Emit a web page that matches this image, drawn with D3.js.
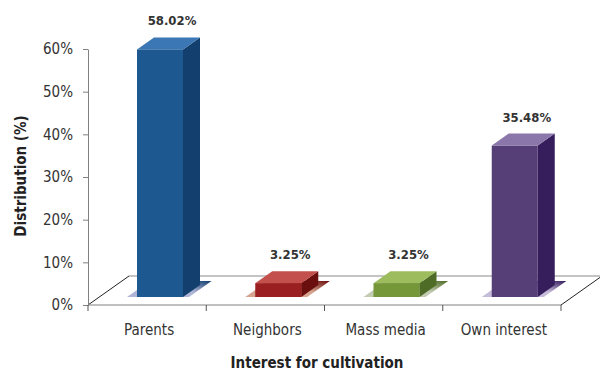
<!DOCTYPE html>
<html>
<head>
<meta charset="utf-8">
<script src="https://cdn.jsdelivr.net/npm/d3@7"></script>
<style>
  html, body { margin: 0; padding: 0; background: #fff; }
  svg { display: block; font-family: "DejaVu Sans Condensed", "DejaVu Sans", sans-serif; }
</style>
</head>
<body>
<svg id="chart" width="600" height="371"></svg>
<script>
// Data
const categories = ["Parents", "Neighbors", "Mass media", "Own interest"];
const values = [58.02, 3.25, 3.25, 35.48];
const yTicks = [0, 10, 20, 30, 40, 50, 60];
const xTitle = "Interest for cultivation";
const yTitle = "Distribution (%)";

// Face colours per bar: front, side, top, shadow
const frontColors = ["#1d5990", "#9a1f20", "#76963a", "#563e77"];
const sideColors = ["#123f6d", "#6a0e0e", "#4f6c27", "#361d5b"];
const topColors = ["#3a77b4", "#c3504c", "#9cbc5e", "#8b77a9"];
const shadowLight = ["#aeb5d6", "#d6a590", "#c3cbb2", "#c5bcd9"];

const svg = d3.select("#chart");

// Plot frame
const x0 = 88, x1 = 561, yBottom = 305, yTop = 49;
const floorDx = 41, floorDy = -29;      // depth of the floor plane
const barDx = 11.3, barDy = -8;         // where bar fronts sit on the floor
const sideDx = 17, sideDy = -12;        // bar depth
const barW = 46, barInset = 49 - barDx;

const x = d3.scaleBand().domain(categories).range([x0, x1]).padding(0);
const y = d3.scaleLinear().domain([0, 60]).range([yBottom, yTop]);

// Floor
const floor = svg.append("g");
floor.append("path")
  .attr("d", `M${x0},${yBottom} L${x0 + floorDx},${yBottom + floorDy} L${x1 + floorDx},${yBottom + floorDy} L${x1},${yBottom} Z`)
  .attr("fill", "#ffffff");
floor.append("line")
  .attr("x1", x0 + floorDx).attr("y1", yBottom + floorDy)
  .attr("x2", x1 + floorDx).attr("y2", yBottom + floorDy)
  .attr("stroke", "#8a8a8a").attr("stroke-width", 1);
floor.append("line")
  .attr("x1", x0).attr("y1", yBottom)
  .attr("x2", x0 + floorDx).attr("y2", yBottom + floorDy)
  .attr("stroke", "#222").attr("stroke-width", 1);
floor.append("line")
  .attr("x1", x1).attr("y1", yBottom)
  .attr("x2", x1 + floorDx).attr("y2", yBottom + floorDy)
  .attr("stroke", "#222").attr("stroke-width", 1);

// Shadow gradients
const defs = svg.append("defs");
categories.forEach((c, i) => {
  const g = defs.append("linearGradient")
    .attr("id", "shade" + i)
    .attr("x1", "0").attr("y1", "1").attr("x2", "1").attr("y2", "0");
  g.append("stop").attr("offset", "0").attr("stop-color", shadowLight[i]);
  g.append("stop").attr("offset", "0.55").attr("stop-color", shadowLight[i]);
  g.append("stop").attr("offset", "1").attr("stop-color", sideColors[i]);
});

const bars = svg.append("g").selectAll("g")
  .data(categories.map((c, i) => ({ c, v: values[i], i })))
  .join("g");

const front = d => x(d.c) + barInset + barDx;
const base = yBottom + barDy;
const topY = d => y(d.v) + barDy;

// Shadow on the floor
bars.append("path")
  .attr("d", d => {
    const fl = front(d) - 10, fr = front(d) + barW + 6;
    const dx = 22.6, dy = -16;
    return `M${fl},${base} L${fr},${base} L${fr + dx},${base + dy} L${fl + dx},${base + dy} Z`;
  })
  .attr("fill", d => `url(#shade${d.i})`);

// Side face
bars.append("path")
  .attr("d", d => {
    const xr = front(d) + barW;
    return `M${xr},${base} L${xr + sideDx},${base + sideDy} L${xr + sideDx},${topY(d) + sideDy} L${xr},${topY(d)} Z`;
  })
  .attr("fill", d => sideColors[d.i]);

// Top face
bars.append("path")
  .attr("d", d => {
    const xl = front(d), t = topY(d);
    return `M${xl},${t} L${xl + barW},${t} L${xl + barW + sideDx},${t + sideDy} L${xl + sideDx},${t + sideDy} Z`;
  })
  .attr("fill", d => topColors[d.i]);

// Front face
bars.append("rect")
  .attr("x", d => front(d))
  .attr("y", d => topY(d))
  .attr("width", barW)
  .attr("height", d => base - topY(d))
  .attr("fill", d => frontColors[d.i]);

// Value labels
bars.append("text")
  .attr("x", d => front(d) + barW / 2 + 12)
  .attr("y", d => topY(d) + sideDy - 12)
  .attr("text-anchor", "middle")
  .attr("font-size", 13)
  .attr("font-weight", "bold")
  .attr("fill", "#333")
  .text(d => d.v.toFixed(2) + "%");

// Y axis
const yAxis = svg.append("g")
  .attr("transform", `translate(${x0},0)`)
  .call(d3.axisLeft(y).tickValues(yTicks).tickFormat(d => d + "%").tickSize(5).tickSizeOuter(0).tickPadding(10));
yAxis.select(".domain").attr("stroke", "#808080");
yAxis.selectAll(".tick line").attr("stroke", "#808080");
yAxis.selectAll(".tick text")
  .attr("font-size", 15)
  .attr("font-family", "DejaVu Sans Condensed, DejaVu Sans, sans-serif")
  .attr("fill", "#333");

// X axis: baseline, boundary ticks, centred labels
const xAxis = svg.append("g");
xAxis.append("line")
  .attr("x1", x0).attr("y1", yBottom).attr("x2", x1).attr("y2", yBottom)
  .attr("stroke", "#808080");
const bounds = categories.map(c => x(c)).concat([x1]);
xAxis.selectAll("line.tk").data(bounds).join("line")
  .attr("class", "tk")
  .attr("x1", d => d).attr("x2", d => d)
  .attr("y1", yBottom).attr("y2", yBottom + 6)
  .attr("stroke", "#555");
xAxis.selectAll("text").data(categories).join("text")
  .attr("x", d => x(d) + x.bandwidth() / 2 + 2)
  .attr("y", 335)
  .attr("text-anchor", "middle")
  .attr("font-size", 15)
  .attr("fill", "#333")
  .text(d => d);

// Axis titles
svg.append("text")
  .attr("x", 317).attr("y", 368)
  .attr("text-anchor", "middle")
  .attr("font-size", 15)
  .attr("font-weight", "bold")
  .attr("fill", "#222")
  .text(xTitle);
svg.append("text")
  .attr("transform", "translate(26,176) rotate(-90)")
  .attr("text-anchor", "middle")
  .attr("font-size", 15)
  .attr("font-weight", "bold")
  .attr("fill", "#222")
  .text(yTitle);
</script>
</body>
</html>
